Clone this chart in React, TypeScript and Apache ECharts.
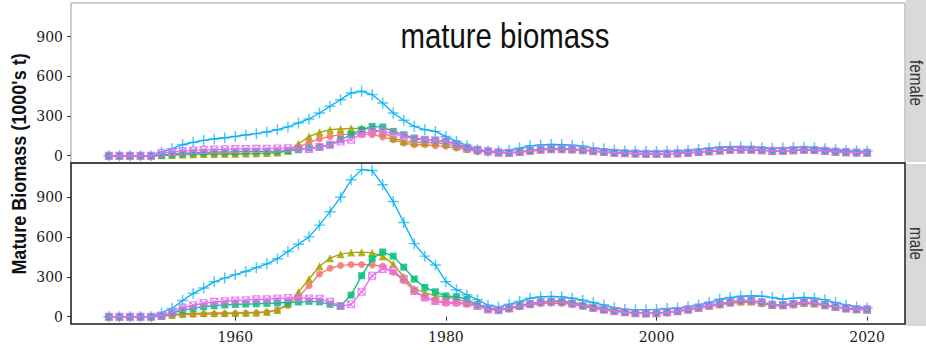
import React, { useEffect, useRef } from 'react';
import * as echarts from 'echarts';

const years = Array.from({ length: 73 }, (_, i) => 1948 + i);
const xTicks = [1960, 1980, 2000, 2020];
const yTicks = [0, 300, 600, 900];
const panels = ['female', 'male'];
const seriesNames = ['run 1', 'run 2', 'run 3', 'run 4', 'run 5'];

// female
const fRed = [
  0, 0, 0, 0, 0, 2, 5, 8, 10, 11,
  12, 13, 14, 15, 16, 18, 22, 35, 65, 100,
  128, 146, 159, 164, 164, 159, 142, 121, 96, 83,
  83, 76, 71, 58, 45, 33, 28, 22, 20, 25,
  34, 42, 46, 46, 44, 38, 32, 25, 20, 17,
  15, 13, 13, 14, 16, 20, 25, 31, 37, 42,
  44, 43, 39, 34, 34, 38, 42, 40, 34, 28,
  24, 21, 20,
];
const fOlive = [
  0, 0, 0, 0, 0, 3, 6, 10, 12, 13,
  14, 15, 15, 16, 18, 20, 25, 38, 90, 145,
  177, 197, 202, 207, 207, 202, 177, 134, 110, 100,
  100, 100, 88, 72, 52, 40, 33, 25, 22, 28,
  38, 47, 52, 53, 51, 45, 37, 30, 24, 20,
  17, 15, 15, 16, 18, 22, 28, 34, 40, 45,
  47, 46, 42, 37, 37, 41, 45, 43, 37, 31,
  27, 24, 23,
];
const fGreen = [
  0, 0, 0, 0, 0, 5, 12, 18, 22, 25,
  27, 28, 30, 31, 32, 33, 35, 38, 45, 58,
  66, 83, 121, 159, 197, 222, 217, 184, 159, 134,
  120, 115, 108, 90, 65, 45, 35, 26, 23, 29,
  39, 48, 52, 52, 50, 44, 36, 29, 24, 20,
  18, 16, 16, 17, 19, 23, 29, 35, 41, 46,
  48, 47, 43, 38, 38, 42, 46, 44, 38, 32,
  28, 25, 24,
];
const fCyan = [
  0, 0, 0, 0, 0, 25, 53, 83, 101, 116,
  127, 136, 146, 157, 167, 180, 197, 218, 248, 278,
  323, 374, 424, 475, 487, 462, 399, 323, 268, 222,
  197, 184, 146, 108, 76, 45, 33, 35, 42, 58,
  75, 82, 85, 84, 80, 72, 60, 50, 42, 36,
  33, 32, 32, 33, 35, 40, 48, 56, 64, 68,
  68, 66, 61, 57, 58, 62, 65, 61, 53, 45,
  39, 35, 33,
];
const fMagenta = [
  0, 0, 0, 0, 0, 20, 28, 35, 40, 44,
  46, 48, 50, 51, 52, 53, 55, 56, 55, 51,
  66, 83, 108, 121, 167, 184, 184, 167, 146, 126,
  121, 116, 108, 83, 58, 45, 33, 25, 22, 28,
  38, 46, 50, 50, 48, 42, 35, 28, 23, 19,
  17, 15, 15, 16, 18, 22, 28, 34, 40, 45,
  47, 46, 42, 37, 37, 41, 45, 43, 37, 31,
  27, 24, 23,
];

// male
const mRed = [
  0, 0, 0, 0, 0, 3, 10, 15, 18, 20,
  20, 22, 23, 25, 28, 33, 50, 85, 150, 232,
  321, 364, 384, 392, 392, 389, 379, 334, 270, 194,
  144, 118, 101, 101, 93, 80, 55, 48, 58, 74,
  88, 98, 102, 100, 92, 78, 62, 50, 40, 32,
  26, 23, 25, 30, 38, 50, 62, 76, 88, 100,
  108, 110, 98, 84, 82, 88, 98, 95, 82, 70,
  60, 54, 52,
];
const mOlive = [
  0, 0, 0, 0, 0, 5, 15, 22, 25, 27,
  28, 28, 28, 30, 32, 38, 50, 95, 185, 283,
  379, 440, 470, 482, 485, 480, 455, 395, 300, 210,
  180, 156, 150, 131, 111, 93, 62, 55, 66, 84,
  100, 112, 118, 118, 108, 95, 80, 64, 50, 38,
  30, 26, 28, 33, 42, 54, 67, 82, 94, 106,
  114, 115, 104, 88, 86, 94, 104, 100, 86, 72,
  62, 55, 53,
];
const mGreen = [
  0, 0, 0, 0, 0, 5, 25, 50, 62, 75,
  82, 88, 92, 95, 97, 100, 103, 107, 110, 115,
  111, 93, 80, 162, 308, 435, 486, 455, 372, 283,
  220, 187, 156, 150, 131, 90, 60, 52, 64, 82,
  98, 110, 114, 112, 100, 84, 68, 54, 43, 34,
  27, 25, 28, 34, 43, 56, 70, 86, 98, 112,
  122, 122, 110, 92, 90, 98, 110, 106, 90, 76,
  64, 57, 56,
];
const mCyan = [
  0, 0, 0, 0, 0, 30, 62, 122, 175, 215,
  262, 290, 316, 340, 368, 397, 435, 490, 545, 600,
  688, 789, 898, 1029, 1105, 1098, 991, 865, 708, 549,
  455, 389, 263, 202, 165, 128, 86, 73, 93, 114,
  139, 149, 152, 149, 139, 124, 106, 88, 68, 55,
  53, 53, 55, 61, 65, 73, 88, 106, 131, 144,
  154, 157, 154, 144, 131, 139, 144, 139, 127, 106,
  88, 73, 65,
];
const mMagenta = [
  0, 0, 0, 0, 0, 8, 30, 68, 86, 101,
  111, 116, 122, 124, 130, 131, 137, 140, 141, 137,
  135, 111, 80, 93, 187, 308, 359, 346, 283, 194,
  144, 118, 111, 108, 101, 80, 55, 49, 62, 80,
  96, 108, 112, 110, 98, 82, 66, 52, 42, 33,
  26, 24, 27, 33, 42, 55, 68, 84, 96, 110,
  120, 121, 108, 90, 88, 96, 108, 104, 88, 74,
  63, 56, 55,
];

const panelData = [
  [fRed, fOlive, fGreen, fCyan, fMagenta],
  [mRed, mOlive, mGreen, mCyan, mMagenta],
];

const colors = ['#F8766D', '#A3A500', '#00BF7D', '#00B0F6', '#E76BF3'];
const PLUS = 'path://M-1,-0.13H1V0.13H-1Z M-0.13,-1H0.13V1H-0.13Z';
const SQX = 'path://M0,0H10V10H0Z M0,0L10,10 M10,0L0,10';
const symbols = ['circle', 'triangle', 'rect', PLUS, SQX];
const sizes = [7, 8, 7, 11, 7];

const SANS = '"Liberation Sans", Arial, sans-serif';
const SERIF = '"DejaVu Serif", serif';

const L = 71, R = 905, T1 = 3, B1 = 163, B2 = 324;

export default function App() {
  const ref = useRef<HTMLDivElement>(null);
  useEffect(() => {
    document.body.style.margin = '0';
    const chart = echarts.init(ref.current!, null, { renderer: 'svg' });
    const grids = [
      { left: L, top: T1, width: R - L, height: B1 - T1 },
      { left: L, top: B1, width: R - L, height: B2 - B1 },
    ];
    const xAxes = grids.map((_, p) => ({
      type: 'value', gridIndex: p, min: 1944.4, max: 2023.6,
      axisLine: { show: false },
      splitLine: { show: false },
      axisTick: { show: p === 1, length: 4, lineStyle: { color: '#333' }, customValues: xTicks },
      axisLabel: { show: p === 1, customValues: xTicks, margin: 6, fontFamily: SERIF, fontSize: 14, color: '#1a1a1a', formatter: (v: number) => String(v) },
    }));
    const yAxes = grids.map((_, p) => ({
      type: 'value', gridIndex: p, min: -55, max: 1155,
      axisLine: { show: false },
      splitLine: { show: false },
      axisTick: { show: true, length: 4, lineStyle: { color: '#333' }, customValues: yTicks },
      axisLabel: { customValues: yTicks, margin: 8, fontFamily: SERIF, fontSize: 14, color: '#1a1a1a' },
    }));
    const series: any[] = [];
    panels.forEach((panel, p) => {
      panelData[p].forEach((vals, s) => {
        const isSqx = s === 4;
        const isPlus = s === 3;
        series.push({
          type: 'line', name: seriesNames[s] + ' ' + panel,
          xAxisIndex: p, yAxisIndex: p,
          data: years.map((y, i) => [y, vals[i]]),
          symbol: symbols[s], symbolSize: sizes[s], showSymbol: true,
          lineStyle: { color: colors[s], width: 1.3 },
          itemStyle: isSqx
            ? { color: 'rgba(0,0,0,0)', borderColor: colors[s], borderWidth: 1.1, opacity: 0.85 }
            : { color: colors[s], opacity: isPlus ? 0.7 : 0.85 },
          z: 2 + s,
          clip: true,
        });
      });
    });
    chart.setOption({
      animation: false,
      grid: grids,
      xAxis: xAxes,
      yAxis: yAxes,
      series,
      graphic: [
        { type: 'rect', shape: { x: L, y: T1, width: R - L, height: B1 - T1 }, style: { fill: 'none', stroke: '#9a9a9a', lineWidth: 1 }, z: 100 },
        { type: 'rect', shape: { x: L, y: B1, width: R - L, height: B2 - B1 }, style: { fill: 'none', stroke: '#1a1a1a', lineWidth: 1.5 }, z: 100 },
        { type: 'rect', shape: { x: R + 1, y: 0, width: 926 - R, height: B1 - 1 }, style: { fill: '#D9D9D9' }, z: 50 },
        { type: 'rect', shape: { x: R + 1, y: B1 + 1, width: 926 - R, height: B2 - B1 + 1 }, style: { fill: '#D9D9D9' }, z: 50 },
        { type: 'text', x: 916, y: (T1 + B1) / 2, rotation: -Math.PI / 2, scaleX: 0.85, style: { text: 'female', fontFamily: SANS, fontSize: 18, fill: '#333', align: 'center', verticalAlign: 'middle' }, z: 60 },
        { type: 'text', x: 916, y: (B1 + B2) / 2, rotation: -Math.PI / 2, scaleX: 0.85, style: { text: 'male', fontFamily: SANS, fontSize: 18, fill: '#333', align: 'center', verticalAlign: 'middle' }, z: 60 },
        { type: 'text', x: 505, y: 35, scaleX: 0.816, style: { text: 'mature biomass', fontFamily: SANS, fontSize: 36, fill: '#111', align: 'center', verticalAlign: 'middle' }, z: 60 },
        { type: 'text', x: 19, y: 164, rotation: Math.PI / 2, scaleX: 0.9, style: { text: "Mature Biomass (1000's t)", fontFamily: SANS, fontWeight: 'bold', fontSize: 20, fill: '#111', align: 'center', verticalAlign: 'middle' }, z: 60 },
      ],
    });
    return () => chart.dispose();
  }, []);
  return <div ref={ref} style={{ width: 926, height: 350 }} />;
}
